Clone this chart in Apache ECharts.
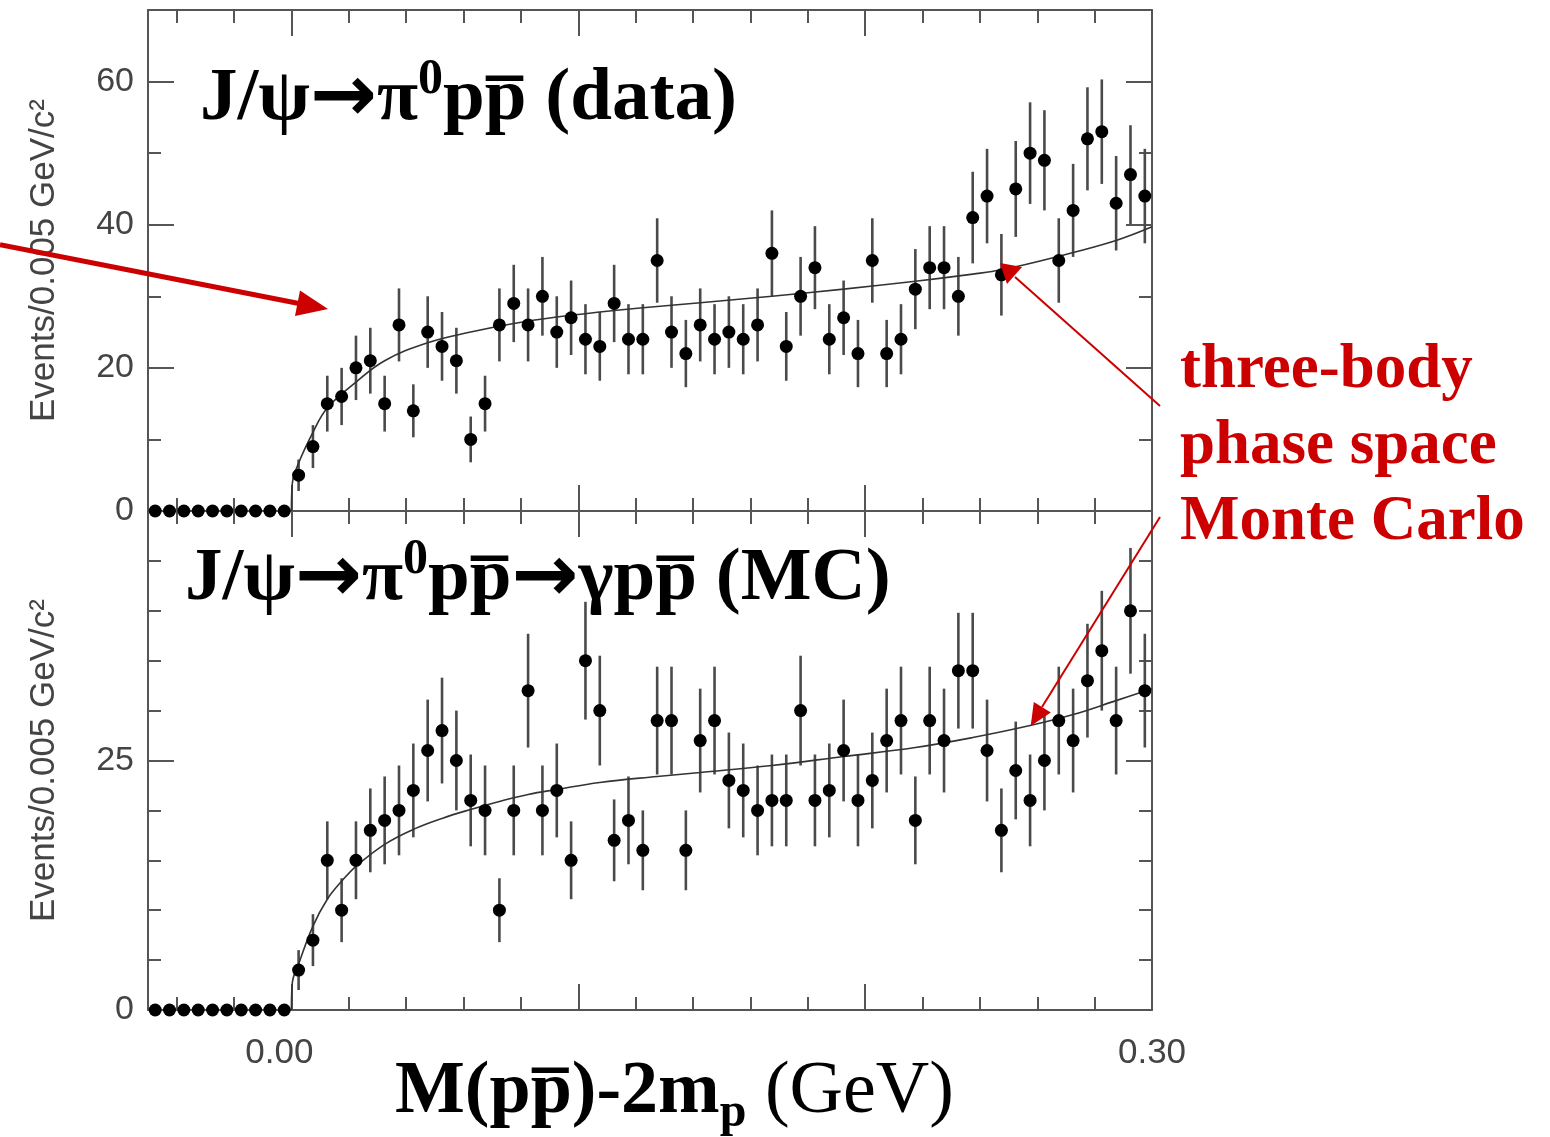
<!DOCTYPE html>
<html>
<head>
<meta charset="utf-8">
<title>J/psi -> pi0 p pbar</title>
<script src="https://cdn.jsdelivr.net/npm/echarts@6/dist/echarts.min.js"></script>
<style>
    html, body {margin: 0; padding: 0; background: #fff;}
    #main {width: 1550px; height: 1137px;}
</style>
</head>
<body>
<div id="main"></div>
<script>
// bin centres, 0.005 GeV bins from -0.05 to 0.30
var binCenters = [-0.0475, -0.0425, -0.0375, -0.0325, -0.0275, -0.0225, -0.0175, -0.0125, -0.0075, -0.0025,
    0.0025, 0.0075, 0.0125, 0.0175, 0.0225, 0.0275, 0.0325, 0.0375, 0.0425, 0.0475,
    0.0525, 0.0575, 0.0625, 0.0675, 0.0725, 0.0775, 0.0825, 0.0875, 0.0925, 0.0975,
    0.1025, 0.1075, 0.1125, 0.1175, 0.1225, 0.1275, 0.1325, 0.1375, 0.1425, 0.1475,
    0.1525, 0.1575, 0.1625, 0.1675, 0.1725, 0.1775, 0.1825, 0.1875, 0.1925, 0.1975,
    0.2025, 0.2075, 0.2125, 0.2175, 0.2225, 0.2275, 0.2325, 0.2375, 0.2425, 0.2475,
    0.2525, 0.2575, 0.2625, 0.2675, 0.2725, 0.2775, 0.2825, 0.2875, 0.2925, 0.2975];

// J/psi -> pi0 p pbar (data)
var dataCounts = [0, 0, 0, 0, 0, 0, 0, 0, 0, 0,
    5, 9, 15, 16, 20, 21, 15, 26, 14, 25,
    23, 21, 10, 15, 26, 29, 26, 30, 25, 27,
    24, 23, 29, 24, 24, 35, 25, 22, 26, 24,
    25, 24, 26, 36, 23, 30, 34, 24, 27, 22,
    35, 22, 24, 31, 34, 34, 30, 41, 44, 33,
    45, 50, 49, 35, 42, 52, 53, 43, 47, 44];
var dataErrors = [0, 0, 0, 0, 0, 0, 0, 0, 0, 0,
    2.2, 3.0, 3.9, 4.0, 4.5, 4.6, 3.9, 5.1, 3.7, 5.0,
    4.8, 4.6, 3.2, 3.9, 5.1, 5.4, 5.1, 5.5, 5.0, 5.2,
    4.9, 4.8, 5.4, 4.9, 4.9, 5.9, 5.0, 4.7, 5.1, 4.9,
    5.0, 4.9, 5.1, 6.0, 4.8, 5.5, 5.8, 4.9, 5.2, 4.7,
    5.9, 4.7, 4.9, 5.6, 5.8, 5.8, 5.5, 6.4, 6.6, 5.7,
    6.7, 7.1, 7.0, 5.9, 6.5, 7.2, 7.3, 6.6, 6.9, 6.6];

// J/psi -> pi0 p pbar -> gamma p pbar (MC)
var mcCounts = [0, 0, 0, 0, 0, 0, 0, 0, 0, 0,
    4, 7, 15, 10, 15, 18, 19, 20, 22, 26,
    28, 25, 21, 20, 10, 20, 32, 20, 22, 15,
    35, 30, 17, 19, 16, 29, 29, 16, 27, 29,
    23, 22, 20, 21, 21, 30, 21, 22, 26, 21,
    23, 27, 29, 19, 29, 27, 34, 34, 26, 18,
    24, 21, 25, 29, 27, 33, 36, 29, 40, 32];
var mcErrors = [0, 0, 0, 0, 0, 0, 0, 0, 0, 0,
    2.0, 2.6, 3.9, 3.2, 3.9, 4.2, 4.4, 4.5, 4.7, 5.1,
    5.3, 5.0, 4.6, 4.5, 3.2, 4.5, 5.7, 4.5, 4.7, 3.9,
    5.9, 5.5, 4.1, 4.4, 4.0, 5.4, 5.4, 4.0, 5.2, 5.4,
    4.8, 4.7, 4.5, 4.6, 4.6, 5.5, 4.6, 4.7, 5.1, 4.6,
    4.8, 5.2, 5.4, 4.4, 5.4, 5.2, 5.8, 5.8, 5.1, 4.2,
    4.9, 4.6, 5.0, 5.4, 5.2, 5.7, 6.0, 5.4, 6.3, 5.7];

// three-body phase space curves
var dataCurveX = [0, 0.0003, 0.0025, 0.0075, 0.0125, 0.0225, 0.0325, 0.0475, 0.0625, 0.0775, 0.0925,
    0.1075, 0.1225, 0.1425, 0.1675, 0.1925, 0.2175, 0.2375, 0.2475, 0.2675, 0.2875, 0.30];
var dataCurveY = [0, 3.8, 6.7, 11.0, 14.4, 18.0, 21.0, 23.5, 25.0, 26.2, 27.1,
    27.8, 28.4, 29.1, 30.0, 31.0, 32.1, 33.1, 33.7, 35.6, 37.8, 39.7];
var mcCurveX = [0, 0.0003, 0.0025, 0.0075, 0.0125, 0.0175, 0.0225, 0.0325, 0.0425, 0.0525, 0.0625, 0.0725,
    0.0825, 0.0925, 0.1075, 0.1275, 0.1425, 0.1675, 0.1925, 0.2175, 0.2375, 0.2575, 0.2725, 0.2875, 0.30];
var mcCurveY = [0, 2.7, 4.6, 8.4, 11.1, 12.9, 14.4, 16.6, 18.1, 19.2, 20.1, 20.9,
    21.6, 22.1, 22.8, 23.4, 23.8, 24.5, 25.4, 26.3, 27.3, 28.5, 29.6, 31.0, 32.2];

var xTickLabels = {'0': '{l|0.00}', '0.3': '0.30'};
var yName = 'Events/0.005 GeV/c\u00b2';

(function () {
    var myChart = echarts.init(document.getElementById('main'), null, {renderer: 'canvas'});

    var axisGray = '#555';
    var red = '#cc0000';
    var serif = '"Liberation Serif", "Times New Roman", serif';
    var sans = '"Liberation Sans", Arial, Helvetica, sans-serif';

    function pairs(xs, ys) {
        return xs.map(function (x, i) { return [x, ys[i]]; });
    }
    function errBars(counts, errs) {
        var out = [];
        binCenters.forEach(function (x, i) {
            if (errs[i] > 0) out.push([x, counts[i] - errs[i], counts[i] + errs[i]]);
        });
        return out;
    }
    function renderErr(params, api) {
        var lo = api.coord([api.value(0), api.value(1)]);
        var hi = api.coord([api.value(0), api.value(2)]);
        return {
            type: 'line',
            shape: {x1: lo[0], y1: lo[1], x2: hi[0], y2: hi[1]},
            style: {stroke: '#4a4a4a', lineWidth: 2.6}
        };
    }

    function xAxisOf(grid, pos, withLabels) {
        return {
            type: 'value',
            gridIndex: grid,
            position: pos,
            min: -0.05,
            max: 0.30,
            minInterval: 0.1,
            maxInterval: 0.1,
            axisLine: {show: true, onZero: false, lineStyle: {color: axisGray, width: 2}},
            axisTick: {show: true, inside: true, length: 26, lineStyle: {color: axisGray, width: 2}},
            minorTick: {show: true, splitNumber: 5, length: 13, lineStyle: {color: axisGray, width: 2}},
            splitLine: {show: false},
            axisLabel: {
                show: withLabels,
                margin: 26,
                color: '#444',
                fontSize: 35,
                fontFamily: sans,
                rich: {l: {color: '#444', fontSize: 35, fontFamily: sans, padding: [0, 24, 0, 0]}},
                formatter: function (v) {
                    var k = String(Math.round(v * 1000) / 1000);
                    return xTickLabels[k] || '';
                }
            }
        };
    }
    function yAxisOf(grid, pos, max, step, minorSplit, withLabels) {
        return {
            type: 'value',
            gridIndex: grid,
            position: pos,
            min: 0,
            max: max,
            interval: step,
            name: withLabels ? yName : '',
            nameLocation: 'middle',
            nameRotate: 90,
            nameGap: 86,
            nameTextStyle: {color: '#444', fontSize: 35, fontFamily: sans},
            axisLine: {show: true, onZero: false, lineStyle: {color: axisGray, width: 2}},
            axisTick: {show: true, inside: true, length: 26, lineStyle: {color: axisGray, width: 2}},
            minorTick: {show: true, splitNumber: minorSplit, length: 13, lineStyle: {color: axisGray, width: 2}},
            splitLine: {show: false},
            axisLabel: {
                show: withLabels,
                margin: 14,
                color: '#444',
                fontSize: 34,
                fontFamily: sans,
                formatter: function (v) { return v >= max ? '' : String(v); }
            }
        };
    }

    var titleRich = {
        b: {fontFamily: serif, fontWeight: 'bold', fontSize: 75, lineHeight: 90, fill: '#000'},
        a: {fontFamily: '"DejaVu Sans", sans-serif', fontWeight: 'bold', fontSize: 80, lineHeight: 90, fill: '#000'},
        s: {fontFamily: serif, fontWeight: 'bold', fontSize: 50, lineHeight: 68, verticalAlign: 'top', fill: '#000'}
    };

    var option = {
        backgroundColor: '#fff',
        animation: false,
        grid: [
            {left: 148, top: 10, width: 1004, height: 501},
            {left: 148, top: 511, width: 1004, height: 499}
        ],
        xAxis: [
            xAxisOf(0, 'bottom', false),
            xAxisOf(0, 'top', false),
            xAxisOf(1, 'bottom', true),
            xAxisOf(1, 'top', false)
        ],
        yAxis: [
            yAxisOf(0, 'left', 70, 20, 2, true),
            yAxisOf(0, 'right', 70, 20, 2, false),
            yAxisOf(1, 'left', 50, 25, 5, true),
            yAxisOf(1, 'right', 50, 25, 5, false)
        ],
        series: [
            {
                name: 'data errors',
                type: 'custom',
                xAxisIndex: 0,
                yAxisIndex: 0,
                renderItem: renderErr,
                encode: {x: 0, y: [1, 2]},
                data: errBars(dataCounts, dataErrors),
                z: 2
            },
            {
                name: 'data phase space',
                type: 'line',
                xAxisIndex: 0,
                yAxisIndex: 0,
                showSymbol: false,
                smooth: 0.4,
                lineStyle: {color: '#333', width: 1.6},
                data: pairs(dataCurveX, dataCurveY),
                z: 3
            },
            {
                name: 'data',
                type: 'scatter',
                xAxisIndex: 0,
                yAxisIndex: 0,
                symbolSize: 13,
                clip: false,
                itemStyle: {color: '#000', opacity: 1},
                data: pairs(binCenters, dataCounts),
                z: 4
            },
            {
                name: 'MC errors',
                type: 'custom',
                xAxisIndex: 2,
                yAxisIndex: 2,
                renderItem: renderErr,
                encode: {x: 0, y: [1, 2]},
                data: errBars(mcCounts, mcErrors),
                z: 2
            },
            {
                name: 'MC phase space',
                type: 'line',
                xAxisIndex: 2,
                yAxisIndex: 2,
                showSymbol: false,
                smooth: 0.4,
                lineStyle: {color: '#333', width: 1.6},
                data: pairs(mcCurveX, mcCurveY),
                z: 3
            },
            {
                name: 'MC',
                type: 'scatter',
                xAxisIndex: 2,
                yAxisIndex: 2,
                symbolSize: 13,
                clip: false,
                itemStyle: {color: '#000', opacity: 1},
                data: pairs(binCenters, mcCounts),
                z: 4
            }
        ],
        graphic: [
            {
                type: 'text', z: 10,
                style: {
                    x: 200, y: 100, verticalAlign: 'middle',
                    text: '{b|J/\u03c8}{a|\u2192}{b|\u03c0}{s|0}{b|pp\u0305 (data)}',
                    rich: titleRich
                }
            },
            {
                type: 'text', z: 10,
                style: {
                    x: 185, y: 580, verticalAlign: 'middle',
                    text: '{b|J/\u03c8}{a|\u2192}{b|\u03c0}{s|0}{b|pp\u0305}{a|\u2192}{b|\u03b3pp\u0305 (MC)}',
                    rich: titleRich
                }
            },
            {
                type: 'text', z: 10,
                style: {
                    x: 395, y: 1093, verticalAlign: 'middle',
                    text: '{b|M(pp\u0305)-2m}{s|p}{r| (GeV)}',
                    rich: {
                        b: {fontFamily: serif, fontWeight: 'bold', fontSize: 74, lineHeight: 90, fill: '#000'},
                        s: {fontFamily: serif, fontWeight: 'bold', fontSize: 48, lineHeight: 50, verticalAlign: 'bottom', fill: '#000'},
                        r: {fontFamily: serif, fontSize: 74, lineHeight: 90, fill: '#000'}
                    }
                }
            },
            {
                type: 'text', z: 10,
                style: {
                    x: 1180, y: 333, verticalAlign: 'top',
                    text: 'three-body\nphase space\nMonte Carlo',
                    fontFamily: serif, fontWeight: 'bold', fontSize: 63, lineHeight: 76, fill: red
                }
            },
            // thick arrow at the threshold
            {type: 'line', z: 11, shape: {x1: 0, y1: 244.6, x2: 299, y2: 303.5}, style: {stroke: red, lineWidth: 5}},
            {type: 'polygon', z: 11, shape: {points: [[328, 309], [300, 290.4], [295, 316]]}, style: {fill: red}},
            // thin arrows to the curves
            {type: 'line', z: 11, shape: {x1: 1160, y1: 406, x2: 1015, y2: 277}, style: {stroke: red, lineWidth: 2}},
            {type: 'polygon', z: 11, shape: {points: [[1000, 263], [1022, 267], [1007, 284]]}, style: {fill: red}},
            {type: 'line', z: 11, shape: {x1: 1160, y1: 517, x2: 1042, y2: 707}, style: {stroke: red, lineWidth: 2}},
            {type: 'polygon', z: 11, shape: {points: [[1030.7, 726], [1050.8, 712.6], [1033.8, 702]]}, style: {fill: red}}
        ]
    };

    myChart.setOption(option);
})();
</script>
</body>
</html>
